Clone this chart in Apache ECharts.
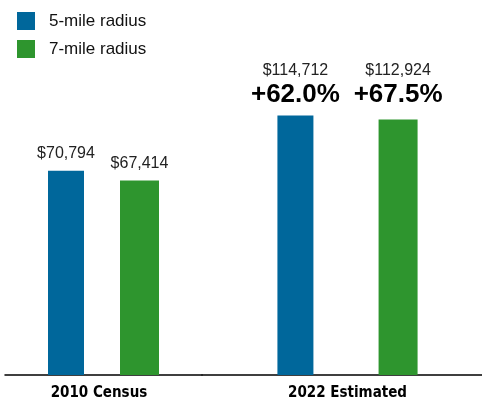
<!DOCTYPE html>
<html><head><meta charset="utf-8">
<script src="https://cdn.jsdelivr.net/npm/echarts@6/dist/echarts.min.js"></script>
<style>html,body{margin:0;padding:0;background:#fff}#c{width:482px;height:400px}</style>
</head><body><div id="c"></div>
<script>
const categories = ['2010 Census', '2022 Estimated'];
const seriesNames = ['5-mile radius', '7-mile radius'];
const fiveMile = [70794, 114712];
const sevenMile = [67414, 112924];
const fiveGrowth = ['', '+62.0%'];
const sevenGrowth = ['', '+67.5%'];

const BLUE = '#00679b', GREEN = '#2e952e';
const SANS = "'Liberation Sans',Arial,sans-serif";
const COND = "'DejaVu Sans Condensed','Liberation Sans',sans-serif";
const fmt = v => '$' + v.toLocaleString('en-US');

function makeLabel(growth, distance) {
  return {
    show: true, position: 'top', distance: distance,
    formatter: p => growth ? '{v|' + fmt(p.value) + '}\n{g|' + growth + '}' : '{v|' + fmt(p.value) + '}',
    rich: {
      v: { fontFamily: SANS, fontSize: 16, color: '#222', lineHeight: 20, align: 'center' },
      g: { fontFamily: SANS, fontSize: 26, fontWeight: 'bold', color: '#000', lineHeight: 28, align: 'center' }
    }
  };
}

const grids = [
  { left: 5, width: 197, top: 25, bottom: 25, outerBoundsMode: 'none', containLabel: false },
  { left: 202, width: 291, top: 25, bottom: 25, outerBoundsMode: 'none', containLabel: false }
];
const yMax = [121240, 154700];
const gaps = ['100%', '181%'];
const labelPad = [[0, 9, 0, 0], [0, 0, 0, 0]];
const greenDist = [7, 11];

const xAxis = [], yAxis = [], series = [];
categories.forEach((cat, i) => {
  xAxis.push({
    type: 'category', gridIndex: i, data: [cat],
    axisLine: { lineStyle: { color: '#000', width: 1.5 } },
    axisTick: { show: false },
    axisLabel: { margin: 11, padding: labelPad[i], fontFamily: COND, fontWeight: 'bold', fontSize: 15, color: '#000' }
  });
  yAxis.push({ type: 'value', gridIndex: i, min: 0, max: yMax[i], show: false, splitLine: { show: false } });
  series.push({
    name: seriesNames[0], type: 'bar', xAxisIndex: i, yAxisIndex: i,
    data: [fiveMile[i]], barWidth: 36, barGap: gaps[i],
    itemStyle: { color: BLUE }, label: makeLabel(fiveGrowth[i], 7)
  });
  series.push({
    name: seriesNames[1], type: 'bar', xAxisIndex: i, yAxisIndex: i,
    data: [sevenMile[i]], barWidth: 39, barGap: gaps[i],
    itemStyle: { color: GREEN }, label: makeLabel(sevenGrowth[i], greenDist[i])
  });
});

const chart = echarts.init(document.getElementById('c'), null, { renderer: 'canvas' });
chart.setOption({
  animation: false,
  color: [BLUE, GREEN],
  legend: {
    data: seriesNames, orient: 'vertical', left: 17, top: 12, padding: 0,
    icon: 'rect', itemWidth: 18, itemHeight: 18, itemGap: 10,
    textStyle: { fontFamily: SANS, fontSize: 17, color: '#111', padding: [0, 0, 0, 9] }
  },
  grid: grids, xAxis, yAxis, series
});
</script></body></html>
